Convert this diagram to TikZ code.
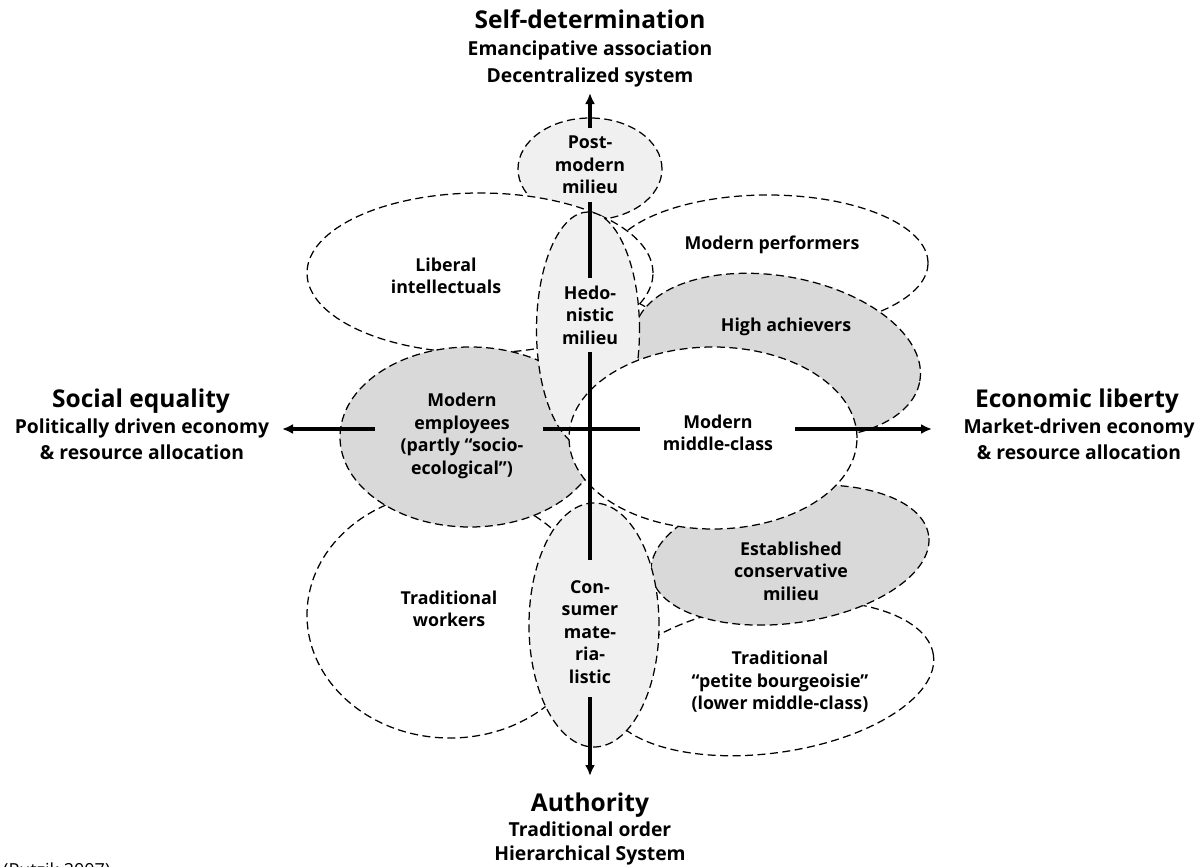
\documentclass[tikz,border=0pt]{standalone}
\usepackage{fontspec}
\setmainfont{Open Sans}
\usetikzlibrary{shapes.geometric,arrows.meta}
\definecolor{lightfill}{HTML}{F0F0F0}
\definecolor{darkfill}{HTML}{D9D9D9}
\tikzset{
  milieu/.style={ellipse, draw=black, line width=1.25pt, dash pattern=on 8pt off 4.5pt, inner sep=0pt, outer sep=0pt},
  whiteregion/.style={milieu, fill=white},
  lightregion/.style={milieu, fill=lightfill},
  darkregion/.style={milieu, fill=darkfill},
  lbl/.style={font=\bfseries\fontsize{17.8}{22.5}\selectfont, align=center, inner sep=0pt},
  head/.style={font=\bfseries\fontsize{24.5}{28}\selectfont, inner sep=0pt, anchor=base},
  sub/.style={font=\bfseries\fontsize{19.3}{26}\selectfont, inner sep=0pt, anchor=base},
  axisline/.style={line width=3.2pt},
  axisarrow/.style={line width=3.2pt, -{Latex[length=11pt,width=10pt]}},
}
\begin{document}
\begin{tikzpicture}[x=1pt,y=-1pt]
\useasboundingbox (0,0) rectangle (1200,867);
% regions (back to front)
\node[whiteregion, minimum width=330pt, minimum height=150pt, rotate=8] (tpb) at (770,678) {};
\node[darkregion, minimum width=280pt, minimum height=136pt, rotate=8] (est) at (790,555) {};
\node[whiteregion, minimum width=286pt, minimum height=246pt] (tw) at (450,615) {};
\node[lightregion, minimum width=130pt, minimum height=244pt] (cons) at (594,625) {};
\node[lightregion, minimum width=144pt, minimum height=102pt] (pm) at (590,169) {};
\node[whiteregion, minimum width=320pt, minimum height=136pt] (mp) at (768,263) {};
\node[darkregion, minimum width=290pt, minimum height=160pt, rotate=-10] (ha) at (777,356) {};
\node[whiteregion, minimum width=346pt, minimum height=160pt] (lib) at (480,273) {};
\node[darkregion, minimum width=260pt, minimum height=180pt] (emp) at (470,437) {};
\node[lightregion, minimum width=103pt, minimum height=236pt] (hed) at (588,330) {};
\node[whiteregion, minimum width=288pt, minimum height=182pt] (mc) at (713,438) {};
% labels
\node[lbl] (pmt) at (590,165) {Post-\\modern\\milieu};
\node[lbl] (libt) at (446,276) {Liberal\\intellectuals};
\node[lbl] (hedt) at (590,315) {Hedo-\\nistic\\milieu};
\node[lbl] (mpt) at (772,245) {Modern performers};
\node[lbl] (hat) at (786,327) {High achievers};
\node[lbl] (empt) at (462,436) {Modern\\employees\\(partly “socio-\\ecological”)};
\node[lbl] (mct) at (718,433) {Modern\\middle-class};
\node[lbl] (estt) at (791,571) {Established\\conservative\\milieu};
\node[lbl] (tpbt) at (780,682) {Traditional\\“petite bourgeoisie”\\(lower middle-class)};
\node[lbl] (twt) at (449,609) {Traditional\\workers};
\node[lbl] (const) at (590,632) {Con-\\sumer\\mate-\\ria-\\listic};
% axis captions
\node[head] (topA) at (590,29) {Self-determination};
\node[sub] (topB) at (590,56) {Emancipative association};
\node[sub] (topC) at (590,83) {Decentralized system};
\node[head] (leftA) at (141,407) {Social equality};
\node[sub] (leftB) at (142,433) {Politically driven economy};
\node[sub] (leftC) at (142,459) {\& resource allocation};
\node[head] (rightA) at (1077,407) {Economic liberty};
\node[sub] (rightB) at (1079,433) {Market-driven economy};
\node[sub] (rightC) at (1079,459) {\& resource allocation};
\node[head] (botA) at (590,811) {Authority};
\node[sub] (botB) at (590,836) {Traditional order};
\node[sub] (botC) at (590,860) {Hierarchical System};
\node[font=\fontsize{18}{20}\selectfont, anchor=base west, inner sep=0pt] (src) at (3,876) {(Putzik 2007)};
% axes
\coordinate (v0) at (590,93);
\coordinate (v1) at (590,128);
\coordinate (v2) at (590,202);
\coordinate (v3) at (590,278);
\coordinate (v4) at (590,352);
\coordinate (v5) at (590,560);
\coordinate (v6) at (590,697);
\coordinate (v7) at (590,776);
\coordinate (h0) at (282,429);
\coordinate (h1) at (375,429);
\coordinate (h2) at (543,429);
\coordinate (h3) at (640,429);
\coordinate (h4) at (795,429);
\coordinate (h5) at (932,429);
\draw[axisarrow] (v1) -- (v0);
\draw[axisline] (v2) -- (v3);
\draw[axisline] (v4) -- (v5);
\draw[axisarrow] (v6) -- (v7);
\draw[axisarrow] (h1) -- (h0);
\draw[axisline] (h2) -- (h3);
\draw[axisarrow] (h4) -- (h5);
\end{tikzpicture}
\end{document}
